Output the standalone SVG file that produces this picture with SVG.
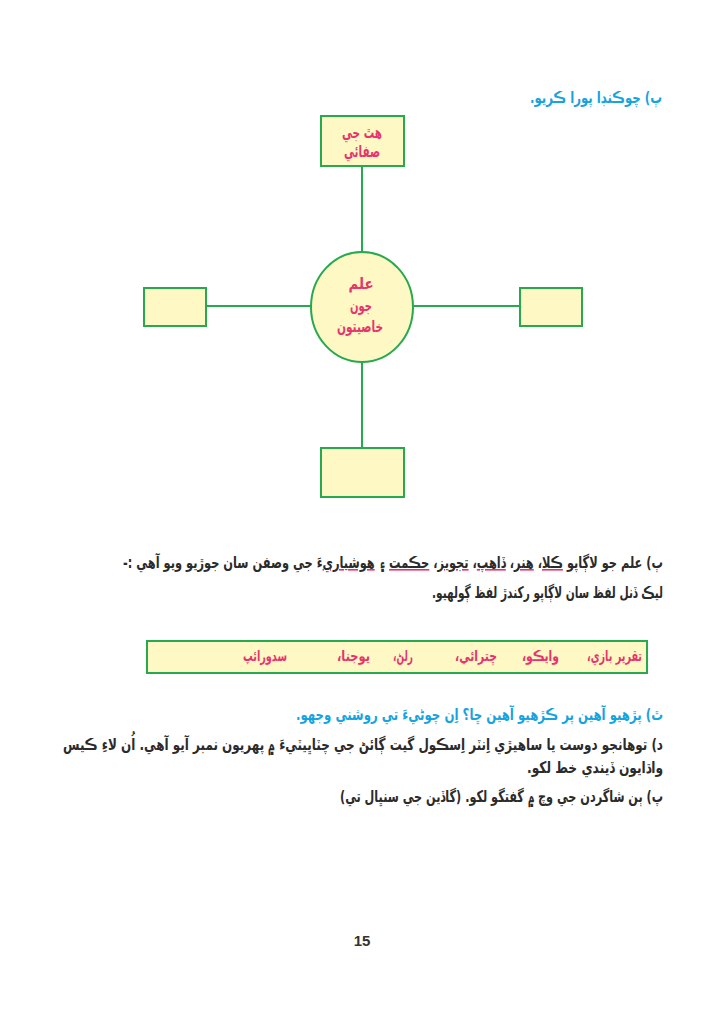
<svg xmlns="http://www.w3.org/2000/svg" width="724" height="1024" viewBox="0 0 724 1024">
<style>
.t{font-family:"DejaVu Sans","Noto Sans",sans-serif;font-weight:bold;direction:rtl;unicode-bidi:embed}
.blue{fill:#17a3de;font-size:16px}
.body{fill:#2b2b2b;font-size:16px}
.pink{fill:#e8336d;font-size:15px}
.np{fill:#e8336d;font-size:16px}
.u{fill:#e8336d;text-decoration:underline}
.d{fill:#2b2b2b}
.node{fill:#fdf8c4;stroke:#27a94d;stroke-width:2}
.conn{stroke:#27a94d;stroke-width:2;fill:none}
</style>
<rect width="724" height="1024" fill="#fff"/>
<text class="t blue" x="662" y="103" textLength="132" lengthAdjust="spacingAndGlyphs">ٻ) چوڪنڊا پورا ڪريو.</text>
<g id="connectors">
<line class="conn" x1="362" y1="166" x2="362" y2="252"/>
<line class="conn" x1="362" y1="362" x2="362" y2="448"/>
<line class="conn" x1="206" y1="306" x2="311" y2="306"/>
<line class="conn" x1="413" y1="306" x2="520" y2="306"/>
</g>
<g id="node-top">
<rect class="node" x="321" y="116" width="83" height="50"/>
<text class="t np" x="362" y="138" text-anchor="middle" textLength="40" lengthAdjust="spacingAndGlyphs">هٿ جي</text>
<text class="t np" x="362" y="157" text-anchor="middle" textLength="36" lengthAdjust="spacingAndGlyphs">صفائي</text>
</g>
<g id="node-center">
<ellipse class="node" cx="362" cy="307" rx="51" ry="55"/>
<text class="t np" x="361" y="289" text-anchor="middle" textLength="25" lengthAdjust="spacingAndGlyphs">علم</text>
<text class="t np" x="361" y="311" text-anchor="middle" textLength="22" lengthAdjust="spacingAndGlyphs">جون</text>
<text class="t np" x="360" y="332" text-anchor="middle" textLength="46" lengthAdjust="spacingAndGlyphs">خاصيتون</text>
</g>
<g id="node-left"><rect class="node" x="144" y="288" width="62" height="38"/></g>
<g id="node-right"><rect class="node" x="520" y="288" width="62" height="38"/></g>
<g id="node-bottom"><rect class="node" x="321" y="448" width="83" height="49"/></g>
<text class="t body" x="663" y="568" textLength="540" lengthAdjust="spacingAndGlyphs">ٻ) علم جو لاڳاپو <tspan class="u"><tspan class="d">ڪلا</tspan></tspan>، <tspan class="u"><tspan class="d">هنر</tspan></tspan>، <tspan class="u"><tspan class="d">ڏاهپ</tspan></tspan>، <tspan class="u"><tspan class="d">تجويز</tspan></tspan>، <tspan class="u"><tspan class="d">حڪمت</tspan></tspan> ۽ <tspan class="u"><tspan class="d">هوشياري</tspan></tspan>ءَ جي وصفن سان جوڙيو ويو آهي :-</text>
<text class="t body" x="663" y="598" textLength="231" lengthAdjust="spacingAndGlyphs">ليڪ ڏنل لفظ سان لاڳاپو رکندڙ لفظ ڳولهيو.</text>
<g id="word-box">
<rect x="147" y="641" width="500" height="32" fill="#fdf8c4" stroke="#27a94d" stroke-width="2"/>
<text class="t pink" x="642" y="661" textLength="55" lengthAdjust="spacingAndGlyphs">تقرير بازي،</text>
<text class="t pink" x="559" y="661" textLength="37" lengthAdjust="spacingAndGlyphs">وايڪو،</text>
<text class="t pink" x="497" y="661" textLength="42" lengthAdjust="spacingAndGlyphs">چترائي،</text>
<text class="t pink" x="413" y="661" textLength="20" lengthAdjust="spacingAndGlyphs">رلڻ،</text>
<text class="t pink" x="370" y="661" textLength="33" lengthAdjust="spacingAndGlyphs">يوجنا،</text>
<text class="t pink" x="287" y="661" textLength="44" lengthAdjust="spacingAndGlyphs">سدورائپ</text>
</g>
<text class="t blue" x="663" y="720" textLength="367" lengthAdjust="spacingAndGlyphs">ٿ) پڙهيو آهين پر ڪڙهيو آهين ڇا؟ اِن چوڻيءَ تي روشني وجهو.</text>
<text class="t body" x="663" y="750" textLength="600" lengthAdjust="spacingAndGlyphs">د) توهانجو دوست يا ساهيڙي اِنٽر اِسڪول گيت ڳائڻ جي چٽاڀيٽيءَ ۾ پهريون نمبر آيو آهي. اُن لاءِ ڪيس</text>
<text class="t body" x="663" y="773" textLength="136" lengthAdjust="spacingAndGlyphs">واڌايون ڏيندي خط لکو.</text>
<text class="t body" x="663" y="802" textLength="323" lengthAdjust="spacingAndGlyphs">پ) ٻن شاگردن جي وچ ۾ گفتگو لکو. (گاڏين جي سنڀال تي)</text>
<text x="362" y="946" text-anchor="middle" font-family="Liberation Sans, Arial, sans-serif" font-weight="bold" font-size="15" fill="#333">15</text>
</svg>
